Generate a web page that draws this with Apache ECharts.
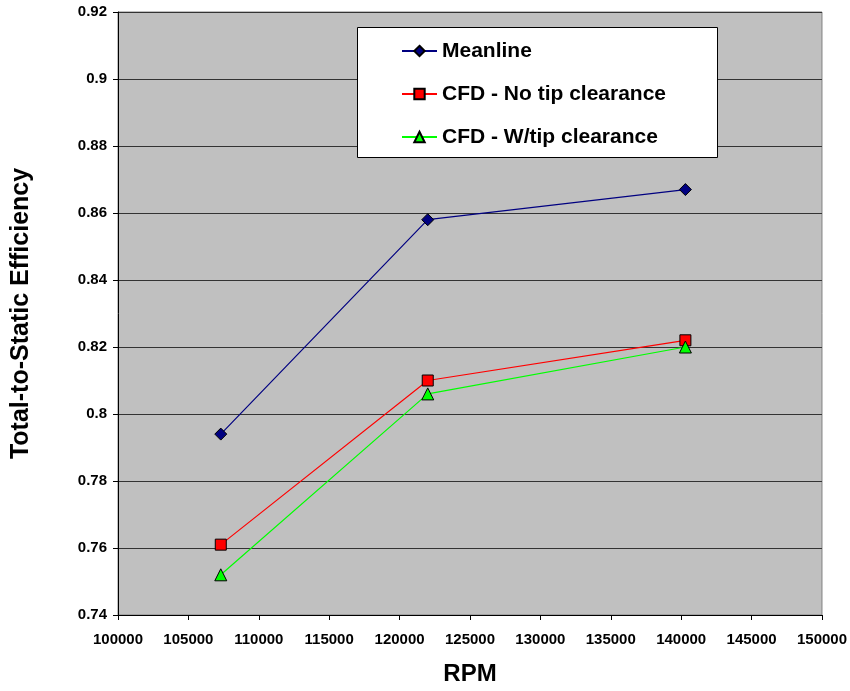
<!DOCTYPE html>
<html>
<head>
<meta charset="utf-8">
<script src="https://cdn.jsdelivr.net/npm/echarts@6/dist/echarts.min.js"></script>
<style>
  html, body { margin: 0; padding: 0; background: #fff; }
  #chart { width: 850px; height: 691px; }
</style>
</head>
<body>
<div id="chart"></div>
<script>
// Rotor speed (RPM) for the three design points
const rpm = [107300, 122000, 140300];

// Total-to-static efficiency per method
const meanline = [0.794, 0.858, 0.867];
const cfdNoTip = [0.761, 0.810, 0.822];
const cfdWithTip = [0.752, 0.806, 0.820];

const seriesNames = ['Meanline', 'CFD - No tip clearance', 'CFD - W/tip clearance'];

const pairs = (ys) => rpm.map((x, i) => [x, ys[i]]);

const chart = echarts.init(document.getElementById('chart'));

const font = 'Arial, "Liberation Sans", sans-serif';

chart.setOption({
  animation: false,
  backgroundColor: '#ffffff',
  grid: {
    left: 118, right: 28, top: 12, bottom: 76,
    show: true,
    backgroundColor: '#C0C0C0',
    borderColor: '#808080',
    borderWidth: 1
  },
  graphic: [{
    type: 'rect',
    left: 357, top: 27,
    shape: { width: 360, height: 130 },
    style: { fill: '#ffffff', stroke: '#000000', lineWidth: 1 },
    z: 50
  }],
  legend: {
    orient: 'vertical',
    left: 401, top: 40,
    padding: 0,
    itemWidth: 35, itemHeight: 13,
    itemGap: 21,
    z: 60,
    textStyle: { fontFamily: font, fontWeight: 'bold', fontSize: 21, color: '#000', lineHeight: 22 },
    data: seriesNames
  },
  xAxis: {
    type: 'value',
    min: 100000, max: 150000, interval: 5000,
    name: 'RPM',
    nameLocation: 'middle',
    nameGap: 47,
    nameTextStyle: { fontFamily: font, fontWeight: 'bold', fontSize: 24, color: '#000' },
    axisLine: { show: true, lineStyle: { color: '#000', width: 1 } },
    axisTick: { show: true, inside: false, length: 5, lineStyle: { color: '#000' } },
    axisLabel: {
      fontFamily: font, fontWeight: 'bold', fontSize: 15, color: '#000', margin: 17,
      formatter: (v) => String(v)
    },
    splitLine: { show: false }
  },
  yAxis: {
    type: 'value',
    min: 0.74, max: 0.92, interval: 0.02,
    name: 'Total-to-Static Efficiency',
    nameLocation: 'middle',
    nameGap: 84,
    nameTextStyle: { fontFamily: font, fontWeight: 'bold', fontSize: 25, color: '#000' },
    axisLine: { show: true, lineStyle: { color: '#000', width: 1 } },
    axisTick: { show: true, inside: false, length: 5, lineStyle: { color: '#000' } },
    axisLabel: {
      fontFamily: font, fontWeight: 'bold', fontSize: 15, color: '#000', margin: 11,
      formatter: (v) => String(parseFloat(v.toFixed(2)))
    },
    splitLine: { show: true, lineStyle: { color: '#333333', width: 1 } }
  },
  series: [
    {
      name: seriesNames[0], type: 'line', data: pairs(meanline),
      symbol: 'diamond', symbolSize: 12,
      lineStyle: { color: '#000080', width: 1.2 },
      itemStyle: { color: '#000080', borderColor: '#000', borderWidth: 1 }
    },
    {
      name: seriesNames[1], type: 'line', data: pairs(cfdNoTip),
      symbol: 'rect', symbolSize: 11,
      lineStyle: { color: '#FF0000', width: 1.2 },
      itemStyle: { color: '#FF0000', borderColor: '#000', borderWidth: 1 }
    },
    {
      name: seriesNames[2], type: 'line', data: pairs(cfdWithTip),
      symbol: 'triangle', symbolSize: 12,
      lineStyle: { color: '#00FF00', width: 1.2 },
      itemStyle: { color: '#00FF00', borderColor: '#000', borderWidth: 1 }
    }
  ]
});
</script>
</body>
</html>
